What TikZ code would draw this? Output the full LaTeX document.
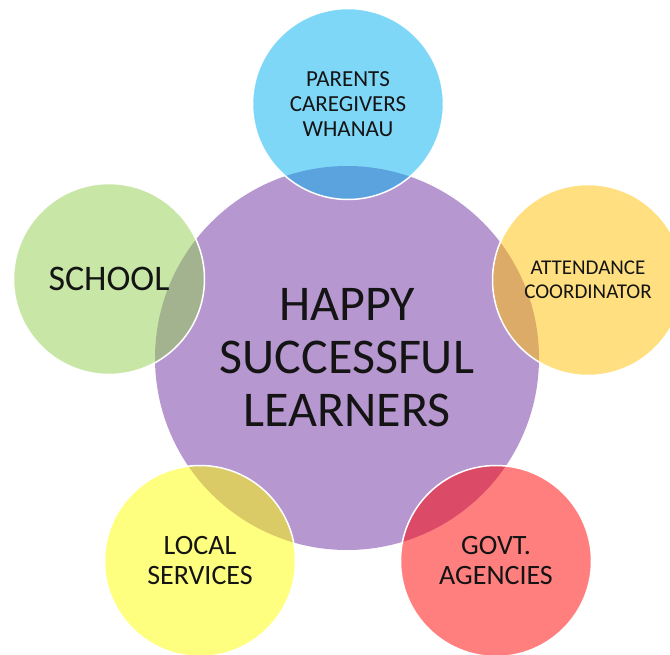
\documentclass[tikz,border=0pt]{standalone}
\usepackage{fontspec}
\setmainfont{Carlito}
\usepackage{tikz}
\definecolor{hubclr}    {RGB}{112, 48,160}
\definecolor{blueclr}   {RGB}{  0,176,240}
\definecolor{greenclr}  {RGB}{146,208, 80}
\definecolor{orangeclr} {RGB}{255,192,  0}
\definecolor{redclr}    {RGB}{255,  0,  0}
\definecolor{yellowclr} {RGB}{255,255,  0}
\definecolor{darktext}  {RGB}{ 20, 20, 20}

\tikzset{
  hub/.style={circle, inner sep=0pt, minimum size=384pt, fill=hubclr,
    fill opacity=0.5, text opacity=1, text=darktext, align=center,
    font=\fontsize{50}{53}\selectfont},
  bubble/.style={circle, inner sep=0pt, minimum size=191pt, draw=white,
    line width=1.5pt, fill opacity=0.5, text opacity=1, text=darktext,
    align=center}
}

\begin{document}
\begin{tikzpicture}[x=1pt, y=-1pt]
  \useasboundingbox (0,0) rectangle (670,654);
  % centre circle
  \node[hub] (learners) at (347,358) {HAPPY\\SUCCESSFUL\\LEARNERS};
  % partner circles round the centre
  \node[bubble, fill=blueclr, font=\fontsize{23}{25}\selectfont]
    (parents) at (348,104) {PARENTS\\CAREGIVERS\\WHANAU};
  \node[bubble, fill=orangeclr, font=\fontsize{21}{24}\selectfont]
    (attendance) at (588,280) {ATTENDANCE\\COORDINATOR};
  \node[bubble, fill=redclr, font=\fontsize{28}{30}\selectfont]
    (agencies) at (496,561) {GOVT.\\AGENCIES};
  \node[bubble, fill=yellowclr, font=\fontsize{28}{30}\selectfont]
    (services) at (200,561) {LOCAL\\SERVICES};
  \node[bubble, fill=greenclr, font=\fontsize{36}{40}\selectfont]
    (school) at (109,279) {SCHOOL};
\end{tikzpicture}
\end{document}
